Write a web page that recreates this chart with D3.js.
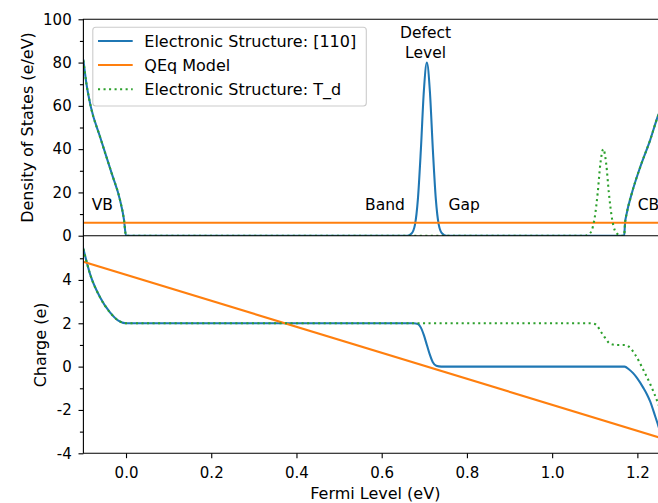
<!DOCTYPE html>
<html>
<head>
<meta charset="utf-8">
<script src="https://cdn.jsdelivr.net/npm/d3@7"></script>
<style>
  html, body { margin: 0; padding: 0; background: #fff; }
  svg text { font-family: "DejaVu Sans", sans-serif; fill: #000; }
</style>
</head>
<body>
<svg id="chart" width="658" height="503"></svg>
<script>
// ---------------- DATA ----------------
// Top panel: density of states (e/eV)
const dosBlueX = [-0.1, -0.093, -0.0826, -0.061, -0.0336, -0.0141, -0.0047, 0.0,
  0.66, 0.67, 0.678, 0.685, 0.692, 0.699, 0.706, 0.713, 0.72, 0.727, 0.734, 0.742, 0.752,
  1.169, 1.171, 1.175, 1.187, 1.207, 1.23, 1.249, 1.27];
const dosBlueY = [81, 70.4, 59.6, 45.7, 28.8, 16.5, 7.3, 0.0,
  0, 1, 5, 17, 40, 67, 80, 67, 40, 17, 5, 1, 0,
  0, 5.7, 10.3, 19.6, 31.9, 44.2, 55.7, 64];
const dosGreenX = [-0.1, -0.093, -0.0826, -0.061, -0.0336, -0.0141, -0.0047, 0.0,
  1.078, 1.085, 1.093, 1.1, 1.107, 1.113, 1.12, 1.127, 1.133, 1.14, 1.147, 1.155, 1.162,
  1.169, 1.171, 1.175, 1.187, 1.207, 1.23, 1.249, 1.27];
const dosGreenY = [81, 70.4, 59.6, 45.7, 28.8, 16.5, 7.3, 0.0,
  0, 0.5, 2.5, 8.5, 20, 33, 40, 33, 20, 8.5, 2.5, 0.5, 0,
  0, 5.7, 10.3, 19.6, 31.9, 44.2, 55.7, 64];
const qeqX = [-0.1, 1.27];
const qeqDOS = [6, 6];

// Bottom panel: charge (e)
const chgBlueX = [-0.1, -0.0845, -0.061, -0.0376, -0.018, 0.0,
  0.675, 0.685, 0.692, 0.699, 0.706, 0.713, 0.72, 0.728, 0.74,
  1.17, 1.18, 1.19, 1.199, 1.214, 1.222, 1.23, 1.242, 1.249, 1.27];
const chgBlueY = [5.43, 4.28, 3.2, 2.5, 2.12, 2.0,
  2.0, 1.97, 1.8, 1.45, 1.0, 0.55, 0.2, 0.04, 0.0,
  0.0, -0.12, -0.3, -0.52, -0.98, -1.26, -1.6, -2.3, -2.72, -4.0];
const chgGreenX = [-0.1, -0.0845, -0.061, -0.0376, -0.018, 0.0,
  1.09, 1.1, 1.107, 1.113, 1.12, 1.127, 1.133, 1.14, 1.15,
  1.17, 1.18, 1.195, 1.214, 1.23, 1.249, 1.27];
const chgGreenY = [5.43, 4.28, 3.2, 2.5, 2.12, 2.0,
  2.0, 1.97, 1.85, 1.65, 1.45, 1.25, 1.1, 1.03, 1.0,
  1.0, 0.92, 0.55, -0.15, -0.8, -1.72, -3.0];
const qeqCharge = [4.84, -3.38];

// Ticks
const xTicks = [0.0, 0.2, 0.4, 0.6, 0.8, 1.0, 1.2];
const xTickLabels = ["0.0", "0.2", "0.4", "0.6", "0.8", "1.0", "1.2"];
const dosTicks = [0, 20, 40, 60, 80, 100];
const dosMinor = [10, 30, 50, 70, 90];
const chgTicks = [-4, -2, 0, 2, 4];
const chgTickLabels = ["-4", "-2", "0", "2", "4"];
const chgMinor = [-3, -1, 1, 3, 5];

const seriesNames = ["Electronic Structure: [110]", "QEq Model", "Electronic Structure: T_d"];
const colors = { blue: "#1f77b4", orange: "#ff7f0e", green: "#2ca02c" };

// ---------------- LAYOUT ----------------
const svg = d3.select("#chart");
const FS_TICK = 15, FS_LABEL = 16, FS_NOTE = 15.5;
const left = 83.4, right = 667.2;
const top1 = 19.3, bot1 = 235.7;
const top2 = 236.6, bot2 = 453.3;

const x = d3.scaleLinear().domain([-0.1, 1.27]).range([left, right]);
const y1 = d3.scaleLinear().domain([0, 100]).range([bot1, top1]);
const y2 = d3.scaleLinear().domain([-4, 6]).range([bot2, top2]);

const defs = svg.append("defs");
defs.append("clipPath").attr("id", "clip1").append("rect")
  .attr("x", left).attr("y", top1).attr("width", right - left).attr("height", bot1 - top1);
defs.append("clipPath").attr("id", "clip2").append("rect")
  .attr("x", left).attr("y", top2).attr("width", right - left).attr("height", bot2 - top2);

function zip(xs, ys) { return xs.map((v, i) => [v, ys[i]]); }

function drawLine(g, data, yS, color, dotted) {
  const line = d3.line().x(d => x(d[0])).y(d => yS(d[1])).curve(d3.curveMonotoneX);
  const p = g.append("path").datum(data)
    .attr("d", line).attr("fill", "none")
    .attr("stroke", color).attr("stroke-width", 2.08);
  if (dotted) p.attr("stroke-dasharray", "2.08,3.44");
  else p.attr("stroke-linecap", "square");
  return p;
}

// ----- Top panel -----
const g1 = svg.append("g").attr("clip-path", "url(#clip1)");
drawLine(g1, zip(dosBlueX, dosBlueY), y1, colors.blue, false);
drawLine(g1, zip(qeqX, qeqDOS), y1, colors.orange, false);
drawLine(g1, zip(dosGreenX, dosGreenY), y1, colors.green, true);

// ----- Bottom panel -----
const g2 = svg.append("g").attr("clip-path", "url(#clip2)");
drawLine(g2, zip(chgBlueX, chgBlueY), y2, colors.blue, false);
drawLine(g2, zip(qeqX, qeqCharge), y2, colors.orange, false);
drawLine(g2, zip(chgGreenX, chgGreenY), y2, colors.green, true);

// ----- Axes -----
function styleAxis(g) {
  g.selectAll("path.domain").remove();
  g.selectAll(".tick line").attr("stroke", "#000").attr("stroke-width", 1.11);
  g.selectAll(".tick text").attr("font-size", FS_TICK).attr("font-family", "DejaVu Sans").attr("fill", "#000");
}

// top panel y axis
const ay1 = svg.append("g").attr("transform", `translate(${left},0)`)
  .call(d3.axisLeft(y1).tickValues(dosTicks).tickFormat(d3.format("d")).tickSize(4.9).tickPadding(6.8));
styleAxis(ay1);
const ay1m = svg.append("g").attr("transform", `translate(${left},0)`)
  .call(d3.axisLeft(y1).tickValues(dosMinor).tickFormat("").tickSize(3.5));
styleAxis(ay1m);

// bottom panel y axis
const ay2 = svg.append("g").attr("transform", `translate(${left},0)`)
  .call(d3.axisLeft(y2).tickValues(chgTicks).tickFormat((d, i) => chgTickLabels[i]).tickSize(4.9).tickPadding(6.8));
styleAxis(ay2);
const ay2m = svg.append("g").attr("transform", `translate(${left},0)`)
  .call(d3.axisLeft(y2).tickValues(chgMinor).tickFormat("").tickSize(3.5));
styleAxis(ay2m);

// x axis (bottom panel)
const ax = svg.append("g").attr("transform", `translate(0,${bot2})`)
  .call(d3.axisBottom(x).tickValues(xTicks).tickFormat((d, i) => xTickLabels[i]).tickSize(4.9).tickPadding(9));
styleAxis(ax);

// spines
const spine = svg.append("g").attr("stroke", "#000").attr("stroke-width", 1.11).attr("fill", "none");
spine.append("path").attr("d", `M${right},${top1}H${left}V${bot1}H${right}V${top1}`).attr("stroke-linecap", "square");
spine.append("path").attr("d", `M${left},${top2}V${bot2}H${right}V${top2}`).attr("stroke-linecap", "square");

// axis labels
svg.append("text").attr("transform", `translate(33,${(top1 + bot1) / 2}) rotate(-90)`)
  .attr("text-anchor", "middle").attr("font-size", FS_LABEL).text("Density of States (e/eV)");
svg.append("text").attr("transform", `translate(46,${(top2 + bot2) / 2}) rotate(-90)`)
  .attr("text-anchor", "middle").attr("font-size", FS_LABEL).text("Charge (e)");
svg.append("text").attr("x", (left + right) / 2).attr("y", 499.3)
  .attr("text-anchor", "middle").attr("font-size", FS_LABEL).text("Fermi Level (eV)");

// annotations (data coordinates of top panel)
const notes = [
  { t: "VB", x: -0.0805, y: 12, anchor: "start" },
  { t: "Band", x: 0.561, y: 12, anchor: "start" },
  { t: "Gap", x: 0.757, y: 12, anchor: "start" },
  { t: "CB", x: 1.201, y: 12, anchor: "start" },
  { t: "Level", x: 0.703, y: 82, anchor: "middle" },
  { t: "Defect", x: 0.703, y: 91.2, anchor: "middle" }
];
svg.append("g").selectAll("text").data(notes).join("text")
  .attr("x", d => x(d.x)).attr("y", d => y1(d.y))
  .attr("text-anchor", d => d.anchor).attr("font-size", FS_NOTE)
  .text(d => d.t);

// legend
const lg = svg.append("g");
lg.append("rect").attr("x", 92.8).attr("y", 27.3).attr("width", 273.5).attr("height", 78.7)
  .attr("rx", 3).attr("ry", 3).attr("fill", "#fff").attr("fill-opacity", 0.8)
  .attr("stroke", "#cccccc").attr("stroke-width", 1.11);
const legendItems = [
  { name: seriesNames[0], color: colors.blue, dotted: false },
  { name: seriesNames[1], color: colors.orange, dotted: false },
  { name: seriesNames[2], color: colors.green, dotted: true }
];
const rowY = [41, 65, 89.3];
legendItems.forEach((d, i) => {
  const l = lg.append("line").attr("x1", 98).attr("x2", 132.7).attr("y1", rowY[i]).attr("y2", rowY[i])
    .attr("stroke", d.color).attr("stroke-width", 2.08);
  if (d.dotted) l.attr("stroke-dasharray", "2.08,3.44");
  lg.append("text").attr("x", 144.3).attr("y", rowY[i] + 5.7).attr("font-size", FS_LABEL).text(d.name);
});
</script>
</body>
</html>
